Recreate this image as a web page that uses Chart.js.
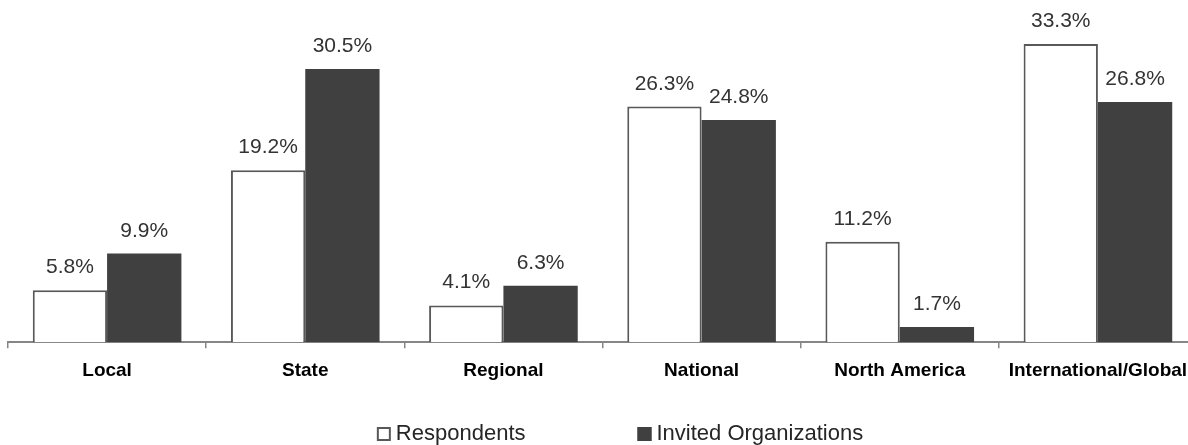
<!DOCTYPE html>
<html>
<head>
<meta charset="utf-8">
<script src="https://cdn.jsdelivr.net/npm/chart.js@4.4.0/dist/chart.umd.min.js"></script>
<style>
  html, body { margin: 0; padding: 0; background: #fff; overflow: hidden; }
  #wrap { position: relative; width: 1200px; height: 445px; }
</style>
</head>
<body>
<div id="wrap"><canvas id="c"></canvas></div>
<script>
const categories = ["Local", "State", "Regional", "National", "North America", "International/Global"];
const respondents = [5.8, 19.2, 4.1, 26.3, 11.2, 33.3];
const invitedOrganizations = [9.9, 30.5, 6.3, 24.8, 1.7, 26.8];
const seriesNames = ["Respondents", "Invited Organizations"];

const valueLabels = {
  id: 'valueLabels',
  afterDatasetsDraw(chart) {
    const ctx = chart.ctx;
    ctx.save();
    ctx.font = '21px "Liberation Sans", Arial, sans-serif';
    ctx.fillStyle = '#333333';
    ctx.textAlign = 'center';
    ctx.textBaseline = 'alphabetic';
    chart.data.datasets.forEach((ds, di) => {
      const meta = chart.getDatasetMeta(di);
      meta.data.forEach((bar, i) => {
        ctx.fillText(ds.data[i].toFixed(1) + '%', bar.x, bar.y - 17);
      });
    });
    ctx.restore();
  }
};

const customLegend = {
  id: 'customLegend',
  afterDraw(chart) {
    const ctx = chart.ctx;
    ctx.save();
    ctx.font = '22px "Liberation Sans", Arial, sans-serif';
    ctx.textBaseline = 'alphabetic';
    ctx.textAlign = 'left';
    const box = 14, gapText = 5, itemGap = 112;
    const items = chart.data.datasets.map(ds => ({ds, w: box + gapText + ctx.measureText(ds.label).width}));
    const total = items.reduce((s, it) => s + it.w, 0) + itemGap * (items.length - 1);
    let x = 620 - total / 2;
    const baseY = 440;
    items.forEach(it => {
      const ds = it.ds;
      ctx.fillStyle = ds.backgroundColor;
      ctx.fillRect(x, baseY - 13, box, box);
      ctx.lineWidth = 2;
      ctx.strokeStyle = ds.borderColor;
      ctx.strokeRect(x + 1, baseY - 12, box - 2, box - 2);
      ctx.fillStyle = '#262626';
      ctx.fillText(ds.label, x + box + gapText, baseY);
      x += it.w + itemGap;
    });
    ctx.restore();
  }
};

new Chart(document.getElementById('c'), {
  type: 'bar',
  data: {
    labels: categories,
    datasets: [
      {
        label: seriesNames[0],
        data: respondents,
        backgroundColor: '#ffffff',
        borderColor: '#595959',
        borderWidth: 2,
        categoryPercentage: 0.75,
        barPercentage: 1.0
      },
      {
        label: seriesNames[1],
        data: invitedOrganizations,
        backgroundColor: '#404040',
        borderColor: '#404040',
        borderWidth: 0,
        categoryPercentage: 0.75,
        barPercentage: 1.0
      }
    ]
  },
  options: {
    responsive: true,
    maintainAspectRatio: false,
    animation: false,
    layout: { padding: { left: 8, right: 3, top: 0, bottom: 52 } },
    plugins: {
      legend: { display: false },
      tooltip: { enabled: false }
    },
    scales: {
      x: {
        grid: { display: true, drawOnChartArea: false, drawTicks: true, tickLength: 6, color: '#868686', lineWidth: 1.5, offset: true },
        border: { display: true, color: '#868686', width: 2 },
        ticks: {
          color: '#000000',
          padding: 11,
          maxRotation: 0,
          autoSkip: false,
          font: { family: '"Liberation Sans", Arial, sans-serif', size: 19, weight: 'bold' }
        }
      },
      y: {
        display: false,
        min: 0,
        max: 38.2
      }
    }
  },
  plugins: [valueLabels, customLegend]
});
</script>
</body>
</html>
